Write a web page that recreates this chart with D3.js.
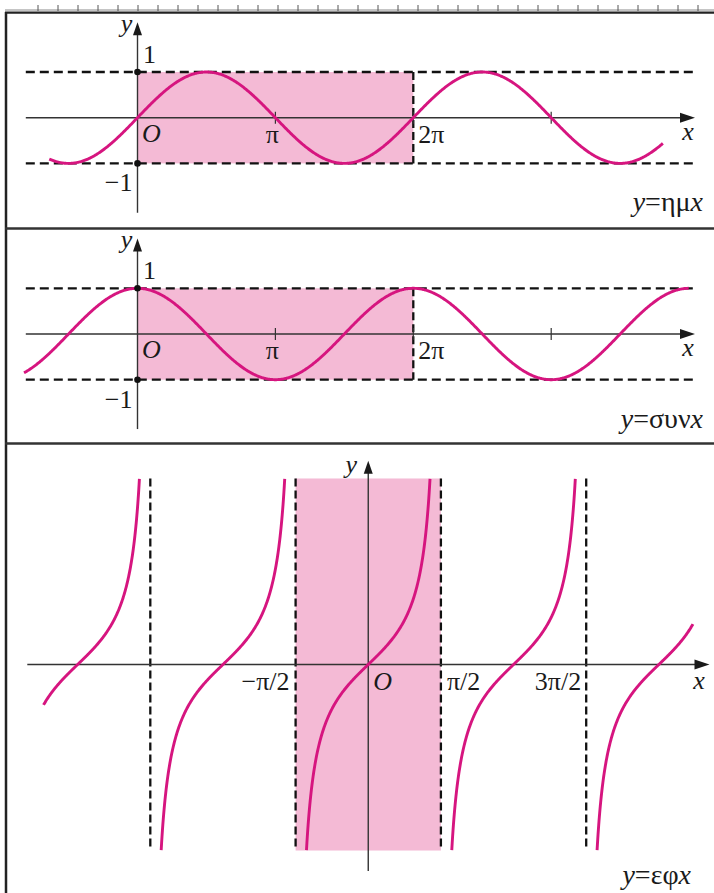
<!DOCTYPE html>
<html><head><meta charset="utf-8">
<script src="https://cdn.jsdelivr.net/npm/d3@7"></script>
<style>body{margin:0;background:#fff}svg{display:block}text{font-family:"Liberation Serif","Tinos","Nimbus Roman","Times New Roman","DejaVu Serif",serif}</style>
</head><body>
<script>
// ---- data (angles in units of π) ----
const sinDomain = [-0.64, 3.813];
const cosDomain = [-0.823, 4];
const waveTicks = [1, 2, 3];
const waveTickLabels = ["π", "2π", ""];
const yTickValues = [1, -1];
const yTickLabels = ["1", "−1"];
const tanAsymptotes = [-1.5, -0.5, 0.5, 1.5];
const tanAsymLabels = ["−π/2", "π/2", "3π/2"];
const tanBranchCenters = [-2, -1, 0, 1, 2];
const tanOuterDomain = [-2.2345, 2.2345];
const tanYMax = 4.17;
const panelTitles = [["y","=ημ","x"],["y","=συν","x"],["y","=εφ","x"]];

const W = 714, H = 893;
const CURVE = "#d6157f", SHADE = "#f4bad5", AXIS = "#333";
const PI = Math.PI;

const svg = d3.select("body").append("svg").attr("width", W).attr("height", H);

// ---- frame / ruler ----
svg.append("line").attr("x1",5).attr("x2",W).attr("y1",10).attr("y2",10).attr("stroke","#8a8a8a").attr("stroke-width",1);
svg.append("line").attr("x1",5).attr("x2",W).attr("y1",12.7).attr("y2",12.7).attr("stroke","#222").attr("stroke-width",2.2);
svg.selectAll(".rt").data(d3.range(38, 706, 20)).enter().append("line")
  .attr("x1",d=>d).attr("x2",d=>d).attr("y1",5).attr("y2",11).attr("stroke","#555").attr("stroke-width",1);
svg.append("line").attr("x1",6).attr("x2",6).attr("y1",12).attr("y2",H).attr("stroke","#222").attr("stroke-width",2.5);
[228.5, 443.5].forEach(y=>svg.append("line").attr("x1",5).attr("x2",W).attr("y1",y).attr("y2",y).attr("stroke","#333").attr("stroke-width",2.5));

function arrowX(g, x, y){ g.append("path").attr("d",`M${x},${y}L${x-15},${y-5}L${x-15},${y+5}Z`).attr("fill","#1a1a1a"); }
function arrowY(g, x, y){ g.append("path").attr("d",`M${x},${y}L${x-4.5},${y+13}L${x+4.5},${y+13}Z`).attr("fill","#1a1a1a"); }
function label(g, x, y, txt, anchor, italic, size){
  return g.append("text").attr("x",x).attr("y",y).attr("text-anchor",anchor||"middle")
    .attr("font-size",size||26).attr("font-style",italic?"italic":"normal").attr("fill","#1a1a1a").text(txt);
}
function title(g, x, y, parts){
  const t = g.append("text").attr("x",x).attr("y",y).attr("text-anchor","end").attr("font-size",28).attr("fill","#1a1a1a");
  t.append("tspan").attr("font-style","italic").text(parts[0]);
  t.append("tspan").text(parts[1]);
  t.append("tspan").attr("font-style","italic").text(parts[2]);
}

// ---- sine / cosine panels ----
function wavePanel(opt){
  const g = svg.append("g");
  const x = d3.scaleLinear().domain([0, 2*PI]).range([137.5, 413.3]);
  const y = d3.scaleLinear().domain([-1, 1]).range([opt.axisY + 45.7, opt.axisY - 45.7]);
  g.append("rect").attr("x",x(0)).attr("y",y(1)).attr("width",x(2*PI)-x(0)).attr("height",y(-1)-y(1)).attr("fill",SHADE);
  [1,-1].forEach(v=>g.append("line").attr("x1",x(-0.81*PI)).attr("x2",x(4.03*PI)).attr("y1",y(v)).attr("y2",y(v))
    .attr("stroke","#111").attr("stroke-width",2.3).attr("stroke-dasharray","9,5"));
  g.append("line").attr("x1",x(2*PI)).attr("x2",x(2*PI)).attr("y1",y(1)).attr("y2",y(-1))
    .attr("stroke","#111").attr("stroke-width",2.3).attr("stroke-dasharray","8,4");
  g.append("line").attr("x1",x(-0.81*PI)).attr("x2",x(4.0*PI)).attr("y1",y(0)).attr("y2",y(0)).attr("stroke",AXIS).attr("stroke-width",1.4);
  arrowX(g, x(4.043*PI), y(0));
  g.append("line").attr("x1",x(0)).attr("x2",x(0)).attr("y1",y(-2.08)).attr("y2",y(2.0)).attr("stroke",AXIS).attr("stroke-width",1.4);
  arrowY(g, x(0), y(2.09));
  waveTicks.forEach(t=>g.append("line").attr("x1",x(t*PI)).attr("x2",x(t*PI)).attr("y1",y(0)-6).attr("y2",y(0)+6).attr("stroke",AXIS).attr("stroke-width",1.2));
  const pts = d3.range(opt.domain[0], opt.domain[1] + 1e-9, 0.005).map(t=>[t*PI, opt.fn(t*PI)]);
  g.append("path").datum(pts).attr("d", d3.line().x(d=>x(d[0])).y(d=>y(d[1])))
    .attr("fill","none").attr("stroke",CURVE).attr("stroke-width",2.9);
  yTickValues.forEach(v=>g.append("circle").attr("cx",x(0)).attr("cy",y(v)).attr("r",3.3).attr("fill","#111"));
  label(g, x(0)-11, y(0)-86, "y", "middle", true);
  label(g, x(0)+5.5, y(1)-9, yTickLabels[0], "start");
  label(g, x(0)-5, y(-1)+28, yTickLabels[1], "end");
  label(g, x(0)+4.5, y(0)+24, "O", "start", true);
  label(g, x(PI)-3, y(0)+25, waveTickLabels[0], "middle");
  label(g, x(2*PI)+5, y(0)+25, waveTickLabels[1], "start");
  label(g, 688, y(0)+22, "x", "middle", true);
  title(g, 703, opt.titleY, opt.title);
}
wavePanel({axisY:117.7, domain:sinDomain, fn:Math.sin, title:panelTitles[0], titleY:211});
wavePanel({axisY:334, domain:cosDomain, fn:Math.cos, title:panelTitles[1], titleY:428});

// ---- tangent panel ----
(function(){
  const g = svg.append("g");
  const x = d3.scaleLinear().domain([-PI/2, PI/2]).range([295.6, 440.9]);
  const y = d3.scaleLinear().domain([-1, 1]).range([664.5 + 44.5, 664.5 - 44.5]);
  g.append("rect").attr("x",x(-PI/2)).attr("y",y(4.18)).attr("width",x(PI/2)-x(-PI/2)).attr("height",y(-4.18)-y(4.18)).attr("fill",SHADE);
  tanAsymptotes.forEach(a=>g.append("line").attr("x1",x(a*PI)).attr("x2",x(a*PI)).attr("y1",y(4.18)).attr("y2",y(-4.18))
    .attr("stroke","#111").attr("stroke-width",2.3).attr("stroke-dasharray","8,4"));
  g.append("line").attr("x1",27.3).attr("x2",x(2.26*PI)).attr("y1",y(0)).attr("y2",y(0)).attr("stroke",AXIS).attr("stroke-width",1.4);
  arrowX(g, 709.5, y(0));
  g.append("line").attr("x1",x(0)).attr("x2",x(0)).attr("y1",y(-4.64)).attr("y2",y(4.4)).attr("stroke",AXIS).attr("stroke-width",1.4);
  arrowY(g, x(0), y(4.58));
  const lim = Math.atan(tanYMax);
  tanBranchCenters.forEach(c=>{
    const a = Math.max(c*PI - lim, tanOuterDomain[0]*PI), b = Math.min(c*PI + lim, tanOuterDomain[1]*PI);
    const pts = d3.range(a, b + 1e-9, (b-a)/300).map(t=>[t, Math.tan(t)]);
    g.append("path").datum(pts).attr("d", d3.line().x(d=>x(d[0])).y(d=>y(d[1])))
      .attr("fill","none").attr("stroke",CURVE).attr("stroke-width",2.9);
  });
  label(g, x(0)-17, 473, "y", "middle", true);
  label(g, x(-0.5*PI)-6, 690, tanAsymLabels[0], "end");
  label(g, x(0.5*PI)+6, 690, tanAsymLabels[1], "start");
  label(g, x(1.5*PI)-5, 690, tanAsymLabels[2], "end");
  label(g, x(0)+5, 690, "O", "start", true);
  label(g, 699, 689, "x", "middle", true);
  title(g, 691, 884, panelTitles[2]);
})();
</script>
</body></html>
